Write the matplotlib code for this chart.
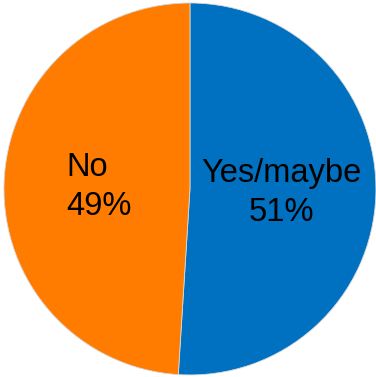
import matplotlib.pyplot as plt
import numpy as np

categories = ['Yes/maybe', 'No']
values = [51, 49]
colors = ['#0070C0', '#FF7C00']
aligns = ['center', 'left']

fig = plt.figure(figsize=(3.76, 3.77), dpi=100)
ax = fig.add_axes([0, 0, 1, 1])

wedges, _ = ax.pie(values, colors=colors, startangle=90, counterclock=False,
                   radius=1.0, wedgeprops=dict(edgecolor='#d8d8d8', linewidth=0.6))

# labels in the middle of each slice
for w, cat, v, al in zip(wedges, categories, values, aligns):
    ang = np.deg2rad((w.theta1 + w.theta2) / 2)
    x = 0.49 * np.cos(ang)
    y = 0.49 * np.sin(ang)
    ax.text(x, y - 0.005, f'{cat}\n{v}%', ha='center', va='center',
            multialignment=al, fontsize=23.5, family='Liberation Sans',
            linespacing=1.33)

ax.set_xlim(-1.021, 1.0)
ax.set_ylim(-1.011, 1.016)
ax.set_aspect('equal')
ax.axis('off')

fig.savefig('out.png', dpi=100)
